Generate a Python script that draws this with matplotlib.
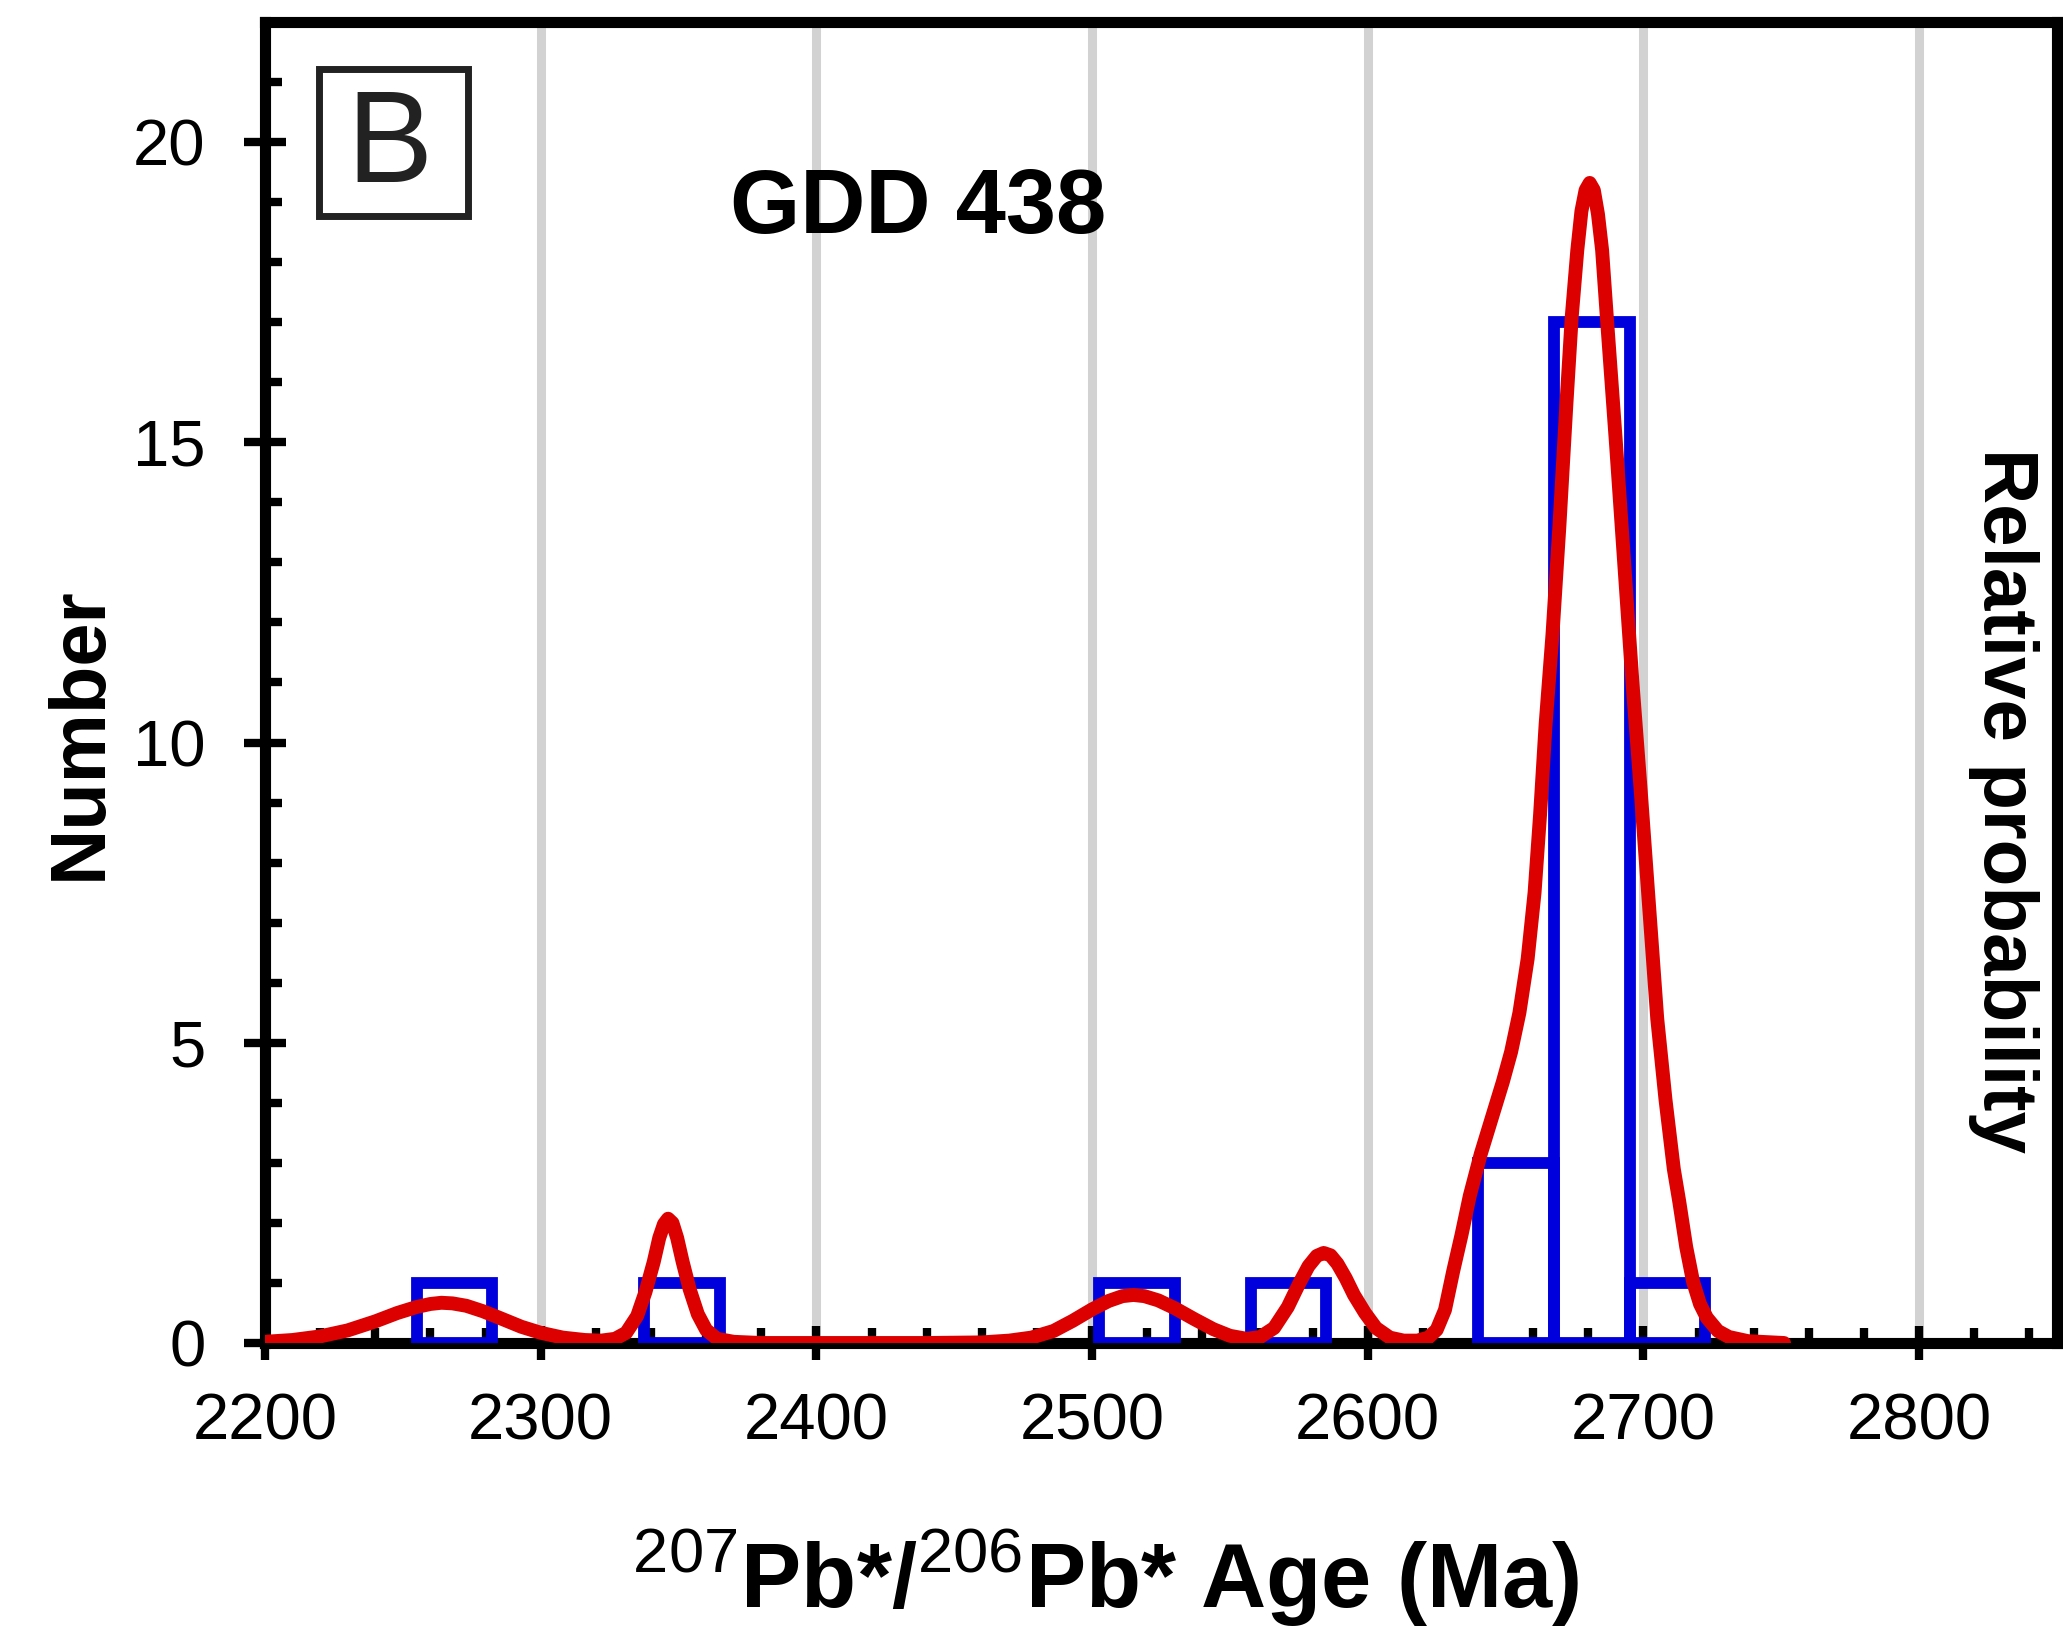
import matplotlib
matplotlib.use("Agg")
import matplotlib.pyplot as plt
from matplotlib.ticker import MultipleLocator
from matplotlib.patches import Rectangle

plt.rcParams['font.family'] = ['Liberation Sans', 'DejaVu Sans']
plt.rcParams['mathtext.fontset'] = 'custom'
plt.rcParams['mathtext.rm'] = 'Liberation Sans'
plt.rcParams['mathtext.bf'] = 'Liberation Sans:bold'

# histogram of ages (bin lower edges, Ma) and counts
bin_left = [2255, 2337.5, 2502.5, 2557.5, 2640, 2667.5, 2695]
bin_width = 27.5
counts = [1, 1, 1, 1, 3, 17, 1]

# relative probability curve
curve_age = [2200, 2210, 2220, 2230, 2240, 2248, 2255, 2260, 2264, 2268,
             2273, 2279, 2285, 2293, 2300, 2308, 2316, 2322, 2327, 2331,
             2335, 2338, 2341, 2343, 2344.7, 2346.2, 2347.8, 2349.5, 2351.5, 2354,
             2357, 2360, 2364, 2370, 2380, 2400, 2440, 2460, 2470, 2478,
             2486, 2493, 2500, 2506, 2511, 2515, 2519, 2524, 2530, 2537,
             2544, 2550, 2556, 2561, 2566, 2571, 2575, 2578.5, 2581.5, 2584,
             2586.5, 2589, 2592, 2595, 2599, 2603, 2608, 2613, 2618, 2622,
             2625, 2628, 2631, 2634, 2637, 2641, 2645, 2649, 2652, 2655,
             2658, 2660.5, 2662.5, 2664.5, 2667, 2669.5, 2672, 2674, 2676, 2677.5,
             2679, 2680.5, 2682, 2683.5, 2685, 2687, 2690, 2693, 2696, 2699,
             2702, 2705, 2708, 2711, 2713, 2715.5, 2718, 2720.5, 2723, 2727,
             2731, 2738, 2751]
curve_prob = [0.02, 0.05, 0.11, 0.21, 0.36, 0.5, 0.6, 0.65, 0.67, 0.66,
              0.62, 0.53, 0.42, 0.27, 0.17, 0.09, 0.05, 0.04, 0.07, 0.17,
              0.45, 0.85, 1.35, 1.75, 1.98, 2.07, 2.0, 1.75, 1.35, 0.9,
              0.48, 0.22, 0.07, 0.02, 0.0, 0.0, 0.0, 0.01, 0.04, 0.09,
              0.2, 0.37, 0.56, 0.7, 0.78, 0.8, 0.78, 0.71, 0.58, 0.4,
              0.23, 0.12, 0.07, 0.1, 0.25, 0.6, 0.98, 1.28, 1.45, 1.5,
              1.46, 1.32, 1.08, 0.8, 0.5, 0.25, 0.09, 0.04, 0.04, 0.09,
              0.22, 0.55, 1.2, 1.8, 2.45, 3.15, 3.75, 4.35, 4.85, 5.5,
              6.4, 7.5, 8.8, 10.3, 11.8, 13.6, 15.6, 17.1, 18.2, 18.85,
              19.2, 19.32, 19.2, 18.8, 18.2, 16.9, 15.0, 13.0, 11.0, 9.2,
              7.3, 5.4, 4.05, 2.9, 2.35, 1.6, 1.02, 0.65, 0.42, 0.2,
              0.1, 0.03, 0.0]

fig = plt.figure(figsize=(20.63, 16.27), dpi=100)
ax = fig.add_axes([265 / 2063, 284 / 1627, 1792 / 2063, 1321 / 1627])

# gridlines at the major ages
ax.grid(axis='x', which='major', color='#d2d2d2', lw=6.5, zorder=0)
ax.set_axisbelow(True)

ax.bar(bin_left, counts, width=bin_width, align='edge', fill=False,
       edgecolor='#0000dc', lw=8.5, zorder=3)
ax.plot(curve_age, curve_prob, color='#dc0000', lw=10,
        solid_joinstyle='round', solid_capstyle='round', zorder=4)

ax.set_xlim(2200, 2850)
ax.set_ylim(0, 22)
ax.xaxis.set_major_locator(MultipleLocator(100))
ax.xaxis.set_minor_locator(MultipleLocator(20))
ax.yaxis.set_major_locator(MultipleLocator(5))
ax.yaxis.set_minor_locator(MultipleLocator(1))

for sp in ax.spines.values():
    sp.set_linewidth(8)
    sp.set_zorder(2)

ax.tick_params(axis='y', which='major', direction='inout', length=30, width=6,
               labelsize=47, pad=28)
ax.tick_params(axis='y', which='minor', direction='in', length=12.5, width=6)
ax.tick_params(axis='x', which='major', direction='inout', length=24, width=6,
               labelsize=47, pad=24)
ax.tick_params(axis='x', which='minor', direction='in', length=11, width=6)
ax.tick_params(top=False, right=False, which='both')

fig.text(0.0388, 0.5495, 'Number', rotation=90, fontsize=56,
         fontweight='bold', ha='center', va='center')
fig.text(0.971, 0.508, 'Relative probability', rotation=270, fontsize=55,
         fontweight='bold', ha='center', va='center')
fig.text(0.536, 0.0117,
         r'$^{\mathrm{207}}$Pb*/$^{\mathrm{206}}$Pb* Age (Ma)',
         fontsize=65, fontweight='bold', ha='center', va='baseline')

ax.text(0.3644, 0.858, 'GDD 438', transform=ax.transAxes, fontsize=65,
        fontweight='bold', ha='center', va='center')

# panel letter in a box
fig.add_artist(Rectangle((319 / 2063, 1 - 216 / 1627), 149 / 2063, 147 / 1627,
                         transform=fig.transFigure, fill=False,
                         edgecolor='#222222', lw=5))
fig.text(0.1888, 0.8881, 'B', fontsize=93, ha='center', va='baseline',
         color='#222222')

fig.savefig('out.png', dpi=100)
